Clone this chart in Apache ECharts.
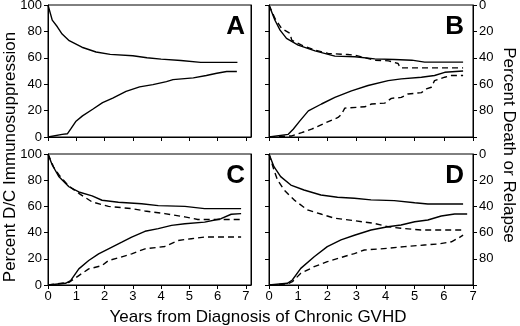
<!DOCTYPE html>
<html>
<head>
<meta charset="utf-8">
<script src="https://cdn.jsdelivr.net/npm/echarts@6/dist/echarts.min.js"></script>
<style>
  html, body { margin: 0; padding: 0; background: #fff; }
  #chart { width: 520px; height: 326px; }
</style>
</head>
<body>
<div id="chart"></div>
<script>
// x = years from diagnosis, y = percent
// upper curves: death or relapse (right axis, inverted)
// lower curves: D/C immunosuppression (left axis)
const yTicks = [0, 20, 40, 60, 80, 100];
const xTicks = [0, 1, 2, 3, 4, 5, 6, 7];

const aRelapse = [[0,0],[0.15,11.5],[0.33,16.5],[0.5,22],[0.75,27],[1.2,32],[1.7,35.6],[2.2,37.4],[3.0,38.4],[3.5,40],[4.0,41],[4.7,42],[5.4,43.5],[6.7,43.5]];
const aStop = [[0,0],[0.5,2],[0.69,2.5],[0.8,5.9],[0.98,11.7],[1.22,16],[1.58,21],[1.93,26],[2.29,29.5],[2.76,34.6],[3.24,38],[3.71,39.7],[4.19,42],[4.42,43.5],[5.14,44.8],[5.6,46.6],[5.97,48.3],[6.32,49.6],[6.68,49.6]];

const bRelapseSolid = [[0,0],[0.2,11.4],[0.38,19],[0.6,25.3],[1.0,30.4],[1.58,34.7],[2.26,38.7],[2.95,39.2],[3.63,40.8],[4.3,41.3],[4.9,41.8],[5.34,43.3],[6.66,43.3]];
const bRelapseDash = [[0,0],[0.2,10],[0.43,17.7],[0.72,21.5],[0.78,26.6],[1.12,30.4],[1.58,34.2],[2.03,36.7],[2.7,37.5],[2.95,38],[3.63,41.8],[4.1,42.3],[4.43,44.3],[4.5,47.6],[6.66,47.6]];
const bStopSolid = [[0,0],[0.66,2],[0.83,5.9],[1.06,12.2],[1.35,19.8],[1.8,25],[2.26,30],[2.83,35],[3.4,39],[4.09,42.7],[4.54,44],[5.23,45.3],[5.68,46.6],[6.03,49],[6.66,50]];
const bStopDash = [[0,0],[0.78,0.8],[1.12,3.3],[1.46,5.9],[1.97,11],[2.37,14.8],[2.49,17.3],[2.6,21.9],[3.29,22.9],[3.52,25],[3.97,25.7],[4.2,29.3],[4.54,30],[4.77,32.6],[5.23,33.6],[5.4,36.4],[5.57,37.7],[5.68,42.7],[6.03,45.3],[6.26,46.6],[6.66,46.6]];

const cRelapseSolid = [[0,0],[0.15,8.4],[0.39,17.4],[0.74,25],[1.09,29],[1.56,32],[1.91,35.3],[2.49,36.8],[3.31,38],[3.9,39.4],[4.84,40],[5.54,41.7],[6.83,41.7]];
const cRelapseDash = [[0,0],[0.2,10],[0.39,16],[0.74,24.6],[1.09,30],[1.56,36.6],[2.14,40],[2.96,41.7],[3.43,43.5],[4.13,45.5],[4.84,48],[5.3,50],[6.83,50]];
const cStopSolid = [[0,0],[0.62,1.3],[0.8,3.3],[1.09,12.3],[1.44,18.7],[1.79,23.8],[2.14,27.6],[2.61,32.7],[2.96,36.6],[3.43,41],[3.9,43],[4.37,45.5],[4.84,46.8],[5.54,48],[6.12,50.6],[6.48,54],[6.83,54.5]];
const cStopDash = [[0,0],[0.74,2],[1.09,7.2],[1.44,12.3],[1.91,14.8],[2.14,18.7],[2.49,20.7],[2.96,23.8],[3.43,27.6],[4.13,29.4],[4.6,34],[5.07,35.3],[5.54,36.6],[6.83,36.6]];

const dRelapseSolid = [[0,0],[0.17,9.7],[0.4,17.3],[0.75,23.7],[1.2,27.5],[1.78,31.3],[2.35,33],[2.93,33.8],[3.5,35],[4.3,35.6],[5.0,37.2],[5.45,38.2],[6.66,38.2]];
const dRelapseDash = [[0,0],[0.17,12.2],[0.29,19.8],[0.52,27.5],[0.86,35],[1.32,42.7],[1.78,45.8],[2.24,49],[2.93,50.9],[3.62,53],[4.08,55.5],[4.53,56.7],[5.22,58],[6.66,58]];
const dStopSolid = [[0,0],[0.63,1.3],[0.8,3.8],[1.09,12.7],[1.55,21.6],[2.0,29.3],[2.47,34.4],[2.93,38],[3.5,42],[4.08,44.5],[4.53,45.8],[5.0,48.3],[5.45,49.6],[5.91,52.7],[6.37,54.2],[6.8,54.2]];
const dStopDash = [[0,0],[0.63,0.8],[0.8,2.5],[1.09,8.9],[1.55,14],[2.0,17.8],[2.47,21],[2.93,24],[3.27,26.7],[4.08,28],[4.65,29.3],[5.33,30.5],[5.8,31.3],[6.26,33],[6.48,35.6],[6.66,38]];

const font = "'Liberation Sans', Arial, Helvetica, sans-serif";

// panel boxes in px; A and C run a little past 7 years
const panels = [
  { letter: 'A', left: 48, top: 5, width: 203, height: 132, xMax: 7.18, xLabels: false, leftLabels: true, rightTicks: false },
  { letter: 'B', left: 269, top: 5, width: 204, height: 132, xMax: 7, xLabels: false, leftLabels: false, rightTicks: true },
  { letter: 'C', left: 48, top: 154, width: 203, height: 131, xMax: 7.18, xLabels: true, leftLabels: true, rightTicks: false },
  { letter: 'D', left: 269, top: 154, width: 204, height: 131, xMax: 7, xLabels: true, leftLabels: false, rightTicks: true }
];

const panelData = [
  { relapse: [aRelapse], stop: [aStop] },
  { relapse: [bRelapseSolid, bRelapseDash], stop: [bStopSolid, bStopDash] },
  { relapse: [cRelapseSolid, cRelapseDash], stop: [cStopSolid, cStopDash] },
  { relapse: [dRelapseSolid, dRelapseDash], stop: [dStopSolid, dStopDash] }
];

const axisLine = { show: true, lineStyle: { color: '#000', width: 1 } };

let grid = [], xAxis = [], yAxis = [], series = [], graphic = [];

panels.forEach(function (p, i) {
  grid.push({
    left: p.left, top: p.top, width: p.width, height: p.height,
    show: true, borderColor: '#000', borderWidth: 1,
    outerBoundsMode: 'none'
  });
  xAxis.push({
    type: 'value', gridIndex: i, min: 0, max: p.xMax,
    axisLine: axisLine,
    axisTick: { show: true, length: 4, lineStyle: { color: '#000' }, customValues: xTicks },
    axisLabel: { show: p.xLabels, customValues: xTicks, color: '#000', fontSize: 13, fontFamily: font, margin: 5 },
    splitLine: { show: false }
  });
  // left axis: D/C immunosuppression
  yAxis.push({
    type: 'value', gridIndex: i, min: 0, max: 100, interval: 20, position: 'left',
    axisLine: axisLine,
    axisTick: { show: true, length: 4, lineStyle: { color: '#000' } },
    axisLabel: { show: p.leftLabels, color: '#000', fontSize: 13, fontFamily: font, margin: 6 },
    splitLine: { show: false }
  });
  // right axis: death or relapse, inverted
  yAxis.push({
    type: 'value', gridIndex: i, min: 0, max: 100, interval: 20, position: 'right', inverse: true,
    axisLine: axisLine,
    axisTick: { show: p.rightTicks, length: 4, lineStyle: { color: '#000' } },
    axisLabel: {
      show: p.rightTicks, color: '#000', fontSize: 13, fontFamily: font, margin: 6,
      formatter: function (v) { return v === 100 ? '' : String(v); }
    },
    splitLine: { show: false }
  });

  const d = panelData[i];
  d.relapse.forEach(function (arr, k) {
    series.push({
      type: 'line', xAxisIndex: i, yAxisIndex: i * 2 + 1, data: arr,
      symbol: 'none', silent: true,
      lineStyle: { color: '#000', width: 1.4, type: k === 0 ? 'solid' : [6, 4] }
    });
  });
  d.stop.forEach(function (arr, k) {
    series.push({
      type: 'line', xAxisIndex: i, yAxisIndex: i * 2, data: arr,
      symbol: 'none', silent: true,
      lineStyle: { color: '#000', width: 1.4, type: k === 0 ? 'solid' : [6, 4] }
    });
  });

  graphic.push({
    type: 'text',
    right: 520 - (p.left + p.width) + (p.xMax > 7 ? 6 : 9),
    top: p.top + 9,
    style: { text: p.letter, font: 'bold 26px ' + font, fill: '#000' }
  });
});

graphic.push({
  type: 'text', x: 10, y: 157, rotation: Math.PI / 2,
  style: { text: 'Percent D/C Immunosuppression', font: '17px ' + font, fill: '#000', align: 'center', verticalAlign: 'middle' }
});
graphic.push({
  type: 'text', x: 509, y: 145, rotation: -Math.PI / 2,
  style: { text: 'Percent Death or Relapse', font: '17px ' + font, fill: '#000', align: 'center', verticalAlign: 'middle' }
});
graphic.push({
  type: 'text', x: 258, y: 317,
  style: { text: 'Years from Diagnosis of Chronic GVHD', font: '17px ' + font, fill: '#000', align: 'center', verticalAlign: 'middle' }
});

const chart = echarts.init(document.getElementById('chart'));
chart.setOption({
  animation: false,
  backgroundColor: '#fff',
  grid: grid,
  xAxis: xAxis,
  yAxis: yAxis,
  series: series,
  graphic: graphic
});
</script>
</body>
</html>
